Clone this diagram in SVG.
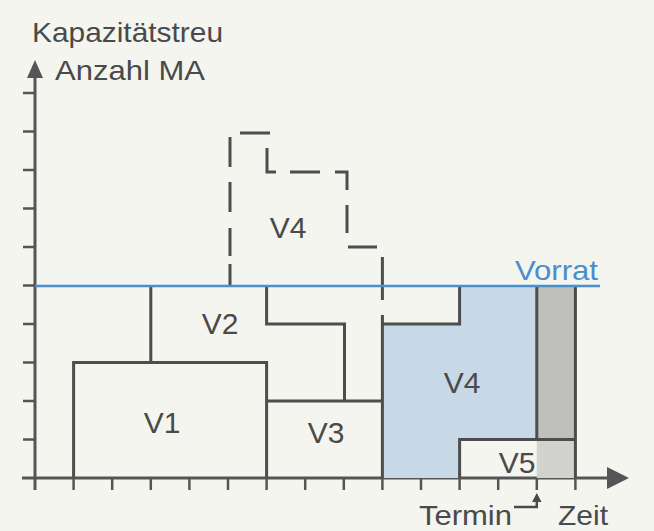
<svg xmlns="http://www.w3.org/2000/svg" width="654" height="531" viewBox="0 0 654 531">
<style>
.ln{stroke:#4d4d4d;stroke-width:3;fill:none;stroke-linecap:butt}
.ax{stroke:#555;stroke-width:3;fill:none}
.tk{stroke:#555;stroke-width:2.5}
.lbl{font-family:"Liberation Sans",Arial,sans-serif;font-size:30px;fill:#4a4a4a;text-anchor:middle}
.txt{font-family:"Liberation Sans",Arial,sans-serif;font-size:28px;fill:#4a4a4a}
</style>
<rect x="0" y="0" width="654" height="531" fill="#f4f5ef"/>
<g id="axes">
<line class="ax" x1="35" y1="74" x2="35" y2="490"/>
<polygon points="35,60 27,78 43,78" fill="#555"/>
<line class="ax" x1="22" y1="478" x2="610" y2="478"/>
<polygon points="629,478 607,467 607,489" fill="#555"/>
<g class="tk">
<line x1="23" y1="93" x2="35" y2="93"/><line x1="23" y1="131.5" x2="35" y2="131.5"/>
<line x1="23" y1="170" x2="35" y2="170"/><line x1="23" y1="208.5" x2="35" y2="208.5"/>
<line x1="23" y1="247" x2="35" y2="247"/><line x1="23" y1="285.5" x2="35" y2="285.5"/>
<line x1="23" y1="324" x2="35" y2="324"/><line x1="23" y1="362.5" x2="35" y2="362.5"/>
<line x1="23" y1="401" x2="35" y2="401"/><line x1="23" y1="439.5" x2="35" y2="439.5"/>
<line x1="73.6" y1="478" x2="73.6" y2="490"/><line x1="112.2" y1="478" x2="112.2" y2="490"/>
<line x1="150.8" y1="478" x2="150.8" y2="490"/><line x1="189.4" y1="478" x2="189.4" y2="490"/>
<line x1="228" y1="478" x2="228" y2="490"/><line x1="266.6" y1="478" x2="266.6" y2="490"/>
<line x1="305.2" y1="478" x2="305.2" y2="490"/><line x1="343.8" y1="478" x2="343.8" y2="490"/>
<line x1="382.4" y1="478" x2="382.4" y2="490"/><line x1="421" y1="478" x2="421" y2="490"/>
<line x1="459.6" y1="478" x2="459.6" y2="490"/><line x1="498.2" y1="478" x2="498.2" y2="490"/>
<line x1="536.8" y1="478" x2="536.8" y2="490"/><line x1="575.4" y1="478" x2="575.4" y2="490"/>
</g>
<text class="txt" x="32" y="42" textLength="191" lengthAdjust="spacingAndGlyphs">Kapazitätstreu</text>
<text class="txt" x="55" y="80" textLength="150" lengthAdjust="spacingAndGlyphs">Anzahl MA</text>
<text class="txt" x="419" y="525" textLength="93" lengthAdjust="spacingAndGlyphs">Termin</text>
<text class="txt" x="558" y="525" textLength="50" lengthAdjust="spacingAndGlyphs">Zeit</text>
</g>
<g id="V4">
<polygon points="382.4,324 459.6,324 459.6,285.5 536.8,285.5 536.8,439.5 459.6,439.5 459.6,478 382.4,478" fill="#c7d9e7"/>
<line class="ln" x1="382.4" y1="315" x2="382.4" y2="478"/>
<path class="ln" d="M382.4,324 H459.6 V285.5"/>
<text class="lbl" x="462" y="393">V4</text>
</g>
<g id="reserve">
<rect x="536.8" y="285.5" width="38.6" height="154" fill="#bfc0bb"/>
<rect x="536.8" y="439.5" width="38.6" height="38.5" fill="#d2d3ce"/>
</g>
<g id="V1">
<path class="ln" d="M73.6,478 V362.5 H266.6 V478"/>
<text class="lbl" x="162" y="433">V1</text>
</g>
<g id="V2">
<line class="ln" x1="150.8" y1="285.5" x2="150.8" y2="362.5"/>
<path class="ln" d="M266.6,285.5 V324 H344.5 V401"/>
<text class="lbl" x="220" y="334">V2</text>
</g>
<g id="V3">
<path class="ln" d="M266.6,401 H382.4"/>
<text class="lbl" x="326" y="443">V3</text>
</g>
<g id="V5">
<path class="ln" d="M459.6,478 V439.5 H575.4"/>
<line class="ln" x1="536.8" y1="285.5" x2="536.8" y2="439.5"/>
<line class="ln" x1="575.4" y1="285.5" x2="575.4" y2="478"/>
<text class="lbl" x="517" y="473">V5</text>
</g>
<g id="V4-plan">
<g class="ln">
<line x1="230" y1="137" x2="230" y2="167"/>
<line x1="230" y1="182" x2="230" y2="212"/>
<line x1="230" y1="228" x2="230" y2="256"/>
<line x1="230" y1="264" x2="230" y2="286"/>
<line x1="240" y1="133" x2="270" y2="133"/>
<path d="M267,148 V172 H276"/>
<line x1="290" y1="172" x2="320" y2="172"/>
<path d="M335,172 H347 V190"/>
<line x1="347" y1="205" x2="347" y2="233"/>
<line x1="348" y1="247" x2="377" y2="247"/>
<line x1="382.4" y1="257" x2="382.4" y2="300"/>
</g>
<text class="lbl" x="288" y="238">V4</text>
</g>
<g id="Vorrat">
<line x1="35" y1="286" x2="600" y2="286" stroke="#4a8fd0" stroke-width="2.5"/>
<text x="515" y="280" font-family="Liberation Sans, Arial, sans-serif" font-size="28" fill="#4a8fcb" textLength="83" lengthAdjust="spacingAndGlyphs">Vorrat</text>
</g>
<g id="connectors">
<path d="M514,507 H536.8 V500" stroke="#4a4a4a" stroke-width="2.5" fill="none"/>
<polygon points="536.8,493 532,502 541.6,502" fill="#4a4a4a"/>
</g>
</svg>
